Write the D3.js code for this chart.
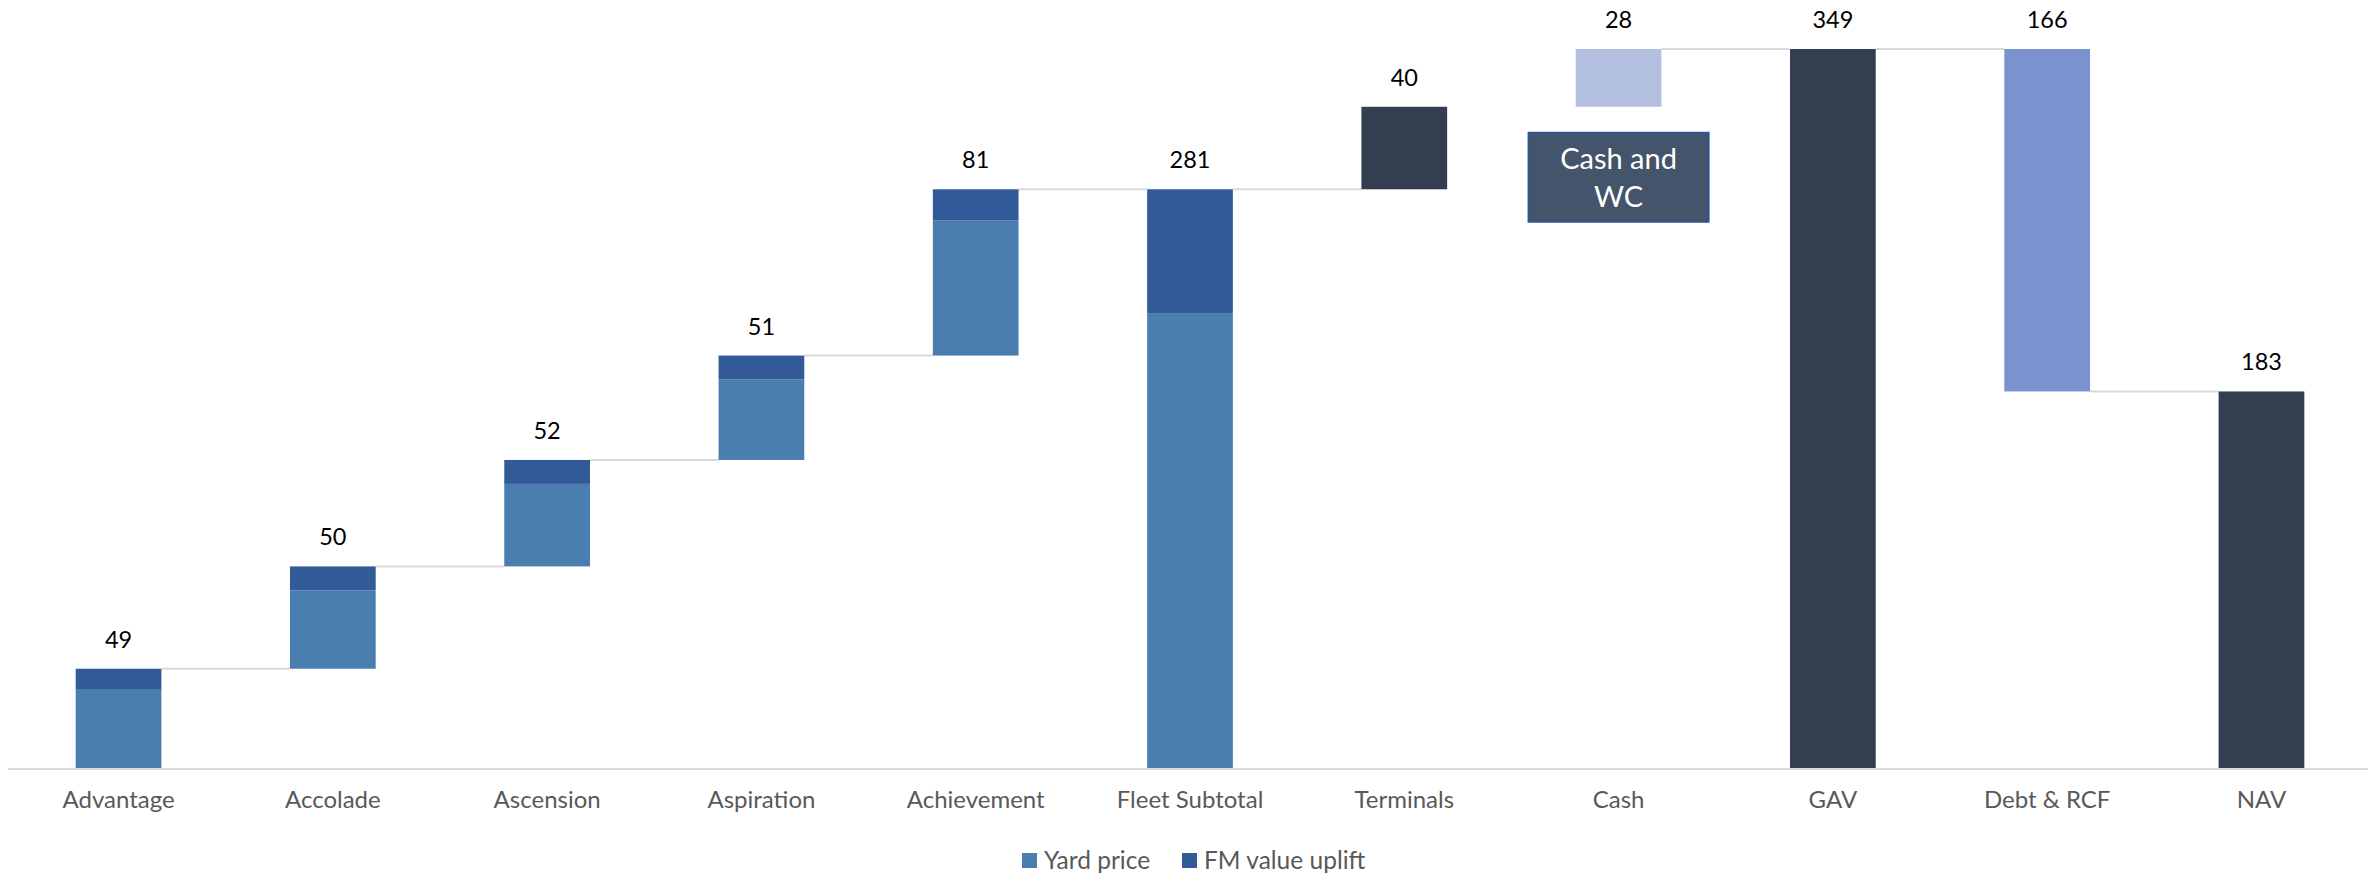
<!DOCTYPE html>
<html>
<head>
<meta charset="utf-8">
<script src="https://cdn.jsdelivr.net/npm/d3@7"></script>
<style>
  html, body { margin: 0; padding: 0; background: #ffffff; }
  svg { display: block; font-family: Lato, "Open Sans", sans-serif; }
</style>
</head>
<body>
<svg id="chart" width="2374" height="874"></svg>
<script>
// ---- data ----
const categories = ["Advantage", "Accolade", "Ascension", "Aspiration", "Achievement",
  "Fleet Subtotal", "Terminals", "Cash", "GAV", "Debt & RCF", "NAV"];
const vesselNames = ["Advantage", "Accolade", "Ascension", "Aspiration", "Achievement"];
const yardPrice = [38.4, 38.0, 40.0, 39.0, 65.6];
const fmUplift = [10.2, 11.6, 11.6, 11.6, 15.0];
const terminalsValue = 40;
const cashValue = 28;
const debtValue = -166;
const legendLabels = ["Yard price", "FM value uplift"];
const boxLines = ["Cash and", "WC"];
const yDomain = [0, 349];

// ---- styling ----
const C = {
  yard: "#4A7EAF", fm: "#325A99", total: "#333F50", cash: "#B4C0E0",
  debt: "#7A92CD", conn: "#D9D9D9", axis: "#D9D9D9", label: "#000000",
  cat: "#595959", box: "#44546A", boxStroke: "#2F5597"
};

// ---- derive waterfall segments ----
const bars = [];
const tops = {};
let cum = 0;
vesselNames.forEach((n, i) => {
  bars.push({ cat: n, y0: cum, y1: cum + yardPrice[i], fill: C.yard });
  bars.push({ cat: n, y0: cum + yardPrice[i], y1: cum + yardPrice[i] + fmUplift[i], fill: C.fm });
  tops[n] = { v: yardPrice[i] + fmUplift[i], top: cum + yardPrice[i] + fmUplift[i], level: cum + yardPrice[i] + fmUplift[i] };
  cum += yardPrice[i] + fmUplift[i];
});
const yardTotal = d3.sum(yardPrice), fmTotal = d3.sum(fmUplift);
const fleet = yardTotal + fmTotal;
bars.push({ cat: "Fleet Subtotal", y0: 0, y1: yardTotal, fill: C.yard });
bars.push({ cat: "Fleet Subtotal", y0: yardTotal, y1: fleet, fill: C.fm });
tops["Fleet Subtotal"] = { v: fleet, top: fleet, level: fleet };
bars.push({ cat: "Terminals", y0: fleet, y1: fleet + terminalsValue, fill: C.total });
tops["Terminals"] = { v: terminalsValue, top: fleet + terminalsValue, level: fleet + terminalsValue };
const gav = fleet + terminalsValue + cashValue;
bars.push({ cat: "Cash", y0: fleet + terminalsValue, y1: gav, fill: C.cash });
tops["Cash"] = { v: cashValue, top: gav, level: gav };
bars.push({ cat: "GAV", y0: 0, y1: gav, fill: C.total });
tops["GAV"] = { v: gav, top: gav, level: gav };
const nav = gav + debtValue;
bars.push({ cat: "Debt & RCF", y0: nav, y1: gav, fill: C.debt });
tops["Debt & RCF"] = { v: -debtValue, top: gav, level: nav };
bars.push({ cat: "NAV", y0: 0, y1: nav, fill: C.total });
tops["NAV"] = { v: nav, top: nav, level: nav };

// connectors between consecutive categories (none Terminals -> Cash)
const connectorPairs = [[0,1],[1,2],[2,3],[3,4],[4,5],[5,6],[7,8],[8,9],[9,10]];

// ---- scales ----
const svg = d3.select("#chart");
const x = d3.scaleBand().domain(categories).range([11.4, 2368.6]).paddingInner(0.6).paddingOuter(0.3);
const y = d3.scaleLinear().domain(yDomain).range([769, 49]);
const bw = x.bandwidth();

// connectors
svg.append("g").selectAll("line").data(connectorPairs).join("line")
  .attr("x1", d => x(categories[d[0]]) + bw)
  .attr("x2", d => x(categories[d[1]]))
  .attr("y1", d => y(tops[categories[d[0]]].level))
  .attr("y2", d => y(tops[categories[d[0]]].level))
  .attr("stroke", C.conn).attr("stroke-width", 2);

// bars
svg.append("g").selectAll("rect").data(bars).join("rect")
  .attr("x", d => x(d.cat))
  .attr("width", bw)
  .attr("y", d => y(d.y1))
  .attr("height", d => y(d.y0) - y(d.y1))
  .attr("fill", d => d.fill);

// axis
const xAxis = d3.axisBottom(x).tickSize(0).tickPadding(22);
const gx = svg.append("g").attr("transform", `translate(0,${y(0)})`).call(xAxis);
gx.select(".domain").attr("stroke", C.axis).attr("stroke-width", 2).attr("d", "M8,0H2368");
gx.selectAll("text").attr("font-size", 24).attr("fill", C.cat).attr("font-family", "Lato, sans-serif");

// value labels
svg.append("g").selectAll("text").data(categories).join("text")
  .attr("x", d => x(d) + bw / 2)
  .attr("y", d => y(tops[d].top) - 21)
  .attr("text-anchor", "middle")
  .attr("font-size", 23.5)
  .attr("fill", C.label)
  .text(d => d3.format(".0f")(tops[d].v));

// Cash and WC annotation box
const bx = x("Cash") + bw / 2;
const boxTop = y(fleet + terminalsValue) + 26;
const ann = svg.append("g");
ann.append("rect").attr("x", bx - 90).attr("y", boxTop).attr("width", 180).attr("height", 89)
  .attr("fill", C.box).attr("stroke", C.boxStroke).attr("stroke-width", 2);
ann.selectAll("text").data(boxLines).join("text")
  .attr("x", bx).attr("y", (d, i) => boxTop + 36 + i * 38)
  .attr("text-anchor", "middle").attr("font-size", 29).attr("fill", "#ffffff")
  .text(d => d);

// legend
const legendColors = [C.yard, C.fm];
const legendX = [1022, 1182];
const lg = svg.append("g");
lg.selectAll("rect").data(legendLabels).join("rect")
  .attr("x", (d, i) => legendX[i]).attr("y", 853).attr("width", 15).attr("height", 15)
  .attr("fill", (d, i) => legendColors[i]);
lg.selectAll("text").data(legendLabels).join("text")
  .attr("x", (d, i) => legendX[i] + 22).attr("y", 869)
  .attr("font-size", 24.5).attr("fill", C.cat)
  .text(d => d);
</script>
</body>
</html>
